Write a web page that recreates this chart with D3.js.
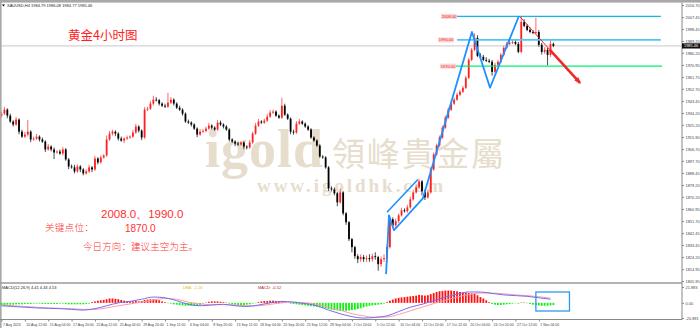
<!DOCTYPE html>
<html><head><meta charset="utf-8">
<script src="https://cdn.jsdelivr.net/npm/d3@7"></script>
<style>body{margin:0;background:#fff;overflow:hidden}svg{display:block}</style>
</head><body>
<svg id="c" width="700" height="328"></svg>
<script>
// ---------- data ----------
const firstOpen = 1932.0;
const closes = [
1933.7,1936.8,1932.2,1927.7,1925.4,1929.2,1920.0,1916.2,1917.8,1920.0,
1914.0,1914.7,1916.2,1914.0,1912.4,1906.4,1908.6,1906.4,1904.1,1904.8,
1903.3,1906.4,1898.8,1893.4,1892.7,1889.6,1893.4,1891.1,1888.1,1889.6,
1892.7,1891.1,1899.5,1896.5,1900.3,1901.8,1914.0,1918.5,1920.0,1918.5,
1914.7,1913.2,1914.7,1915.5,1916.2,1919.3,1923.9,1920.8,1915.5,1936.8,
1937.5,1941.4,1944.4,1944.0,1941.4,1939.8,1939.1,1942.1,1944.4,1941.4,
1938.3,1936.8,1933.7,1927.7,1926.9,1925.4,1922.3,1917.8,1920.0,1920.5,
1922.3,1924.6,1923.1,1921.6,1926.9,1925.4,1923.9,1921.6,1914.0,1912.4,
1910.9,1910.2,1911.7,1908.6,1907.9,1911.7,1918.5,1924.6,1927.7,1926.9,
1928.4,1931.5,1934.5,1935.3,1932.2,1930.7,1939.8,1933.0,1929.9,1920.0,
1919.3,1926.1,1927.7,1926.1,1923.9,1921.6,1915.5,1913.2,1909.4,1901.0,
1900.3,1892.7,1876.7,1875.9,1872.9,1866.0,1873.6,1857.6,1850.8,1837.9,
1831.8,1824.9,1822.6,1824.2,1822.6,1823.4,1822.6,1824.9,1824.2,1818.8,
1822.6,1823.4,1831.8,1853.1,1848.5,1851.6,1856.1,1859.9,1859.2,1862.2,
1868.3,1873.6,1877.4,1882.0,1874.4,1869.8,1873.6,1891.1,1902.6,1909.4,
1915.5,1923.1,1930.7,1936.8,1941.4,1944.4,1948.2,1950.5,1953.5,1961.1,
1974.8,1982.5,1991.6,1977.9,1977.1,1974.8,1974.1,1973.3,1965.7,1971.0,
1973.3,1978.6,1984.0,1987.0,1987.8,1988.5,1987.0,1980.9,2003.8,2000.7,
1997.7,1996.1,1995.4,1996.1,1986.3,1980.9,1982.5,1978.6,1987.0,1985.5];
const upWick = [
1.5,2,1,1.5,1,2,1,1.5,2,9, 1,1.5,2,1,1.5,1,2,1,1.5,1,
1.5,2,1,1,1.5,2,1.5,1,1,1.5, 2,1,2,1,1.5,1,3,2,1.5,1,
1,1.5,1,1.5,1,2,2,1,1,2, 1.5,2,3,2,1,1,1.5,7.5,2,1,
1,1.5,1,1,1.5,1,1,1,2,1.5, 1.5,2,1,1,2,1.5,1,1,1,1,
1,1.5,1,1,1,2,1.5,2,2,1, 1.5,2,2,1.5,1,1,6,1.5,1,1,
1.5,2,2,1,1,1,1,1,1,1, 1,1,1,1.5,1.5,1,3,1,1,1,
1,1,1.5,2,1.5,2,3,2,3,1, 2,3,2,2,1.5,2,1.5,2,1.5,2,
2,2,2,2,1,1.5,2,1.5,1.5,1.5, 1.5,1.5,1.5,1.5,1.5,1.5,1.5,1.5,1.5,1.5,
1.5,1.5,3.5,2,2,1.5,2,1.5,1.5,1.5, 1.5,1.5,1.5,1.5,1.5,2,1.5,1.5,4.5,2,
1.5,2,1.5,11,1.5,1.5,2,1.5,3,1];
const dnWick = [
1.5,1,2,1,1.5,1,2,1,1,1.5, 2,1,1,1.5,1,2,1,1.5,5,1,
1,1.5,1,2,1,1.5,1,2,1.5,1, 1,2,1,1.5,1,1,1,1,1.5,2,
1.5,1,2,1,1,1,1,1.5,2,1, 1,1,1.5,1,1.5,1,1,1,1,1.5,
1,1,1.5,1,1,1.5,1,2,1,1, 1,1,1.5,1,1,1,1.5,1,1.5,1,
2,1,1,2,1.5,1,1,1,1,1, 1,1,1,1,1,1,1,1,1,2,
1.5,1,1,1,1,1,1,1,1,1, 1,1,2,1.5,1.5,3,1,1.5,2,1.5,
4,2,3,2,2,2,2,2,2,5, 2,2,3,1,1.5,2,1.5,1,1,1,
1,1,1,1,3,2,1,1,1,1, 1,1,1,1,1,1,1,1,1,1,
1,1,1,1,1.5,1,1,1,3,1.5, 1,1,1,1,1,1,1,1,1,1,
1,1,1,1,1.5,2,1.5,8,1.5,1];
const macdHist = [
-3,-3,-2.5,-2.5,-2.5, -2,-2,-2,-1.5,-1.5,-1.5,
-1,-1,-1,-1.5,-1.5,-1.5,-1.5,-1.5,-1.5,-1,
-1,-1.5,-2,-2,-2,-2,-2,-2,-1.5,-1,
1,2,3,3.5,4, 5,6,6,5.5,5,4, 3,2.5,2,2,2.5,2,
2.5,4,4.5,5,5,4.5,3.5, 2,1,-0.5,-1,-2,-2.5,
-3,-3.5,-4,-4,-4,-4,-3.5,-3, -1,0.5,1.5,2,2,2,1.5,1,0.5,
-1,-2,-2.5,-3,-3,-3,-2.5,-2,-1,-0.5, 1,2,2.5,2.5,3,3,2.5,2,2,
1,0,-1,-1.5,-2, -2.5,-3,-3.5,-4,-4.5,-5,-5.5,-6,-7,
-7.5,-8.5,-9.5,-10,-10.5,-11,-11,-11,-10.5,-10, -9.5,-8.5,-7.5,-6,-5,-4,-3.5,-3,-2.5,-2,-1,
1,3,4.5,6,7,7.5,8,8.5,9, 9.5,10,11,10.5,10,10.5,12,13.5,15,16,
16.5,17,17,17,16.5,16,15,14.5,14,13.5, 13,12.5,10.5,8,6,3.5,
1,-1.5,-2.5,-3,-3,-2.5, -2,-1.5,-1,-0.5,-1,0.5, 0.5,-0.5,-1.5,-2.5,-3,-3.5,
-4,-4,-4,-3.5,-3];
// MACD lines sampled every 4 bars
const difVals = [-4,-5,-6,-7,-7.5,-8,-9,-10,-8,-4,0,2,5,8,7,3,-2,-4,-3,-2,-4,-5,-3,0,2,1,-1,-4,-10,-15,-19,-21,-20,-18,-12,-6,-2,3,8,12,15,15,13,11,10,9,7,5];
const deaVals = [-3,-4,-5,-6,-7,-7.5,-8,-9,-9,-7,-4,-1.5,1,4,6,5,1,-1.5,-2.5,-2.5,-3,-4,-4,-2,0,1,0,-2,-6,-10,-15,-18,-20,-19.5,-16,-11,-6,-1,3.5,8,11.5,13.5,13.5,12.5,11,10,8.5,6.5];
const yTicks = [2016.70,2007.45,1998.45,1989.20,1980.20,1970.95,1961.75,1952.70,1943.45,1934.20,1925.20,1915.90,1906.70,1897.70,1888.45,1879.20,1870.20,1860.95,1851.70,1842.45,1833.45,1824.20,1814.95,1805.95];
const macdTicks = [21.893, 0, -20.891];
const macdTickLabels = ["21.893","0.00","-20.891"];
const xLabels = ["7 Aug 2023","10 Aug 12:00","15 Aug 04:00","17 Aug 20:00","22 Aug 12:00","25 Aug 04:00","29 Aug 20:00","1 Sep 12:00","6 Sep 04:00","8 Sep 20:00","13 Sep 12:00","18 Sep 04:00","20 Sep 20:00","25 Sep 12:00","28 Sep 04:00","2 Oct 20:00","5 Oct 12:00","10 Oct 04:00","12 Oct 20:00","17 Oct 12:00","20 Oct 04:00","24 Oct 20:00","27 Oct 12:00","1 Nov 04:00"];
const levels = [2008, 1990, 1970];
const levelLabels = ["2008.00","1990.00","1970.00"];
const currentPrice = 1985.46;
const trendUp = [[131.7,1811.2],[132.7,1856.1],[134.4,1844.7],[144.3,1869.1],[161.1,1996.1],[167.3,1953.5],[177.2,2008.3]];
const channelTop = [[132.0,1858.4],[142.6,1883.5]];
const arrowPts = [[177.6,2007.6],[187.8,1982.5],[198.1,1957.3]];

// ---------- scales ----------
const svg = d3.select('#c');
const x = d3.scaleLinear().domain([0, closes.length-1]).range([1.5, 553.4]);
const y = d3.scaleLinear().domain([1805.95, 2016.70]).range([281, 5]);
const ym = d3.scaleLinear().domain([-20.891, 21.893]).range([318, 287]);
const AX = 682;

svg.append('rect').attr('width',700).attr('height',328).attr('fill','#fff');

// watermark
const wm = svg.append('g').attr('fill','#e6ddcc');
wm.append('text').attr('x',205).attr('y',167).attr('font-family','Liberation Serif, DejaVu Serif, serif').attr('font-weight','bold').attr('font-size',54).attr('textLength',118).text('igold');
wm.append('text').attr('x',332).attr('y',166).attr('font-family','Noto Sans CJK TC').attr('font-size',33).attr('textLength',172).text('領峰貴金屬');
wm.append('text').attr('x',257).attr('y',192).attr('font-family','Liberation Serif, DejaVu Serif, serif').attr('font-weight','bold').attr('font-size',19).attr('textLength',186).text('www.igoldhk.com');

// current price line
svg.append('line').attr('x1',0).attr('x2',AX).attr('y1',y(currentPrice)).attr('y2',y(currentPrice)).attr('stroke','#c8c8c8').attr('stroke-width',1);

// candles
const bars = closes.map((c,i)=>{
  const o = i===0 ? firstOpen : closes[i-1];
  return {i, o, c, h: Math.max(o,c)+upWick[i], l: Math.min(o,c)-dnWick[i], up: c>=o};
});
const cg = svg.append('g');
cg.selectAll('line.w').data(bars).join('line')
  .attr('x1',d=>x(d.i)).attr('x2',d=>x(d.i)).attr('y1',d=>y(d.h)).attr('y2',d=>y(d.l))
  .attr('stroke',d=>d.up?'#ff4040':'#1a1a1a').attr('stroke-width',0.8);
cg.selectAll('rect').data(bars).join('rect')
  .attr('x',d=>x(d.i)-0.9).attr('width',1.8)
  .attr('y',d=>y(Math.max(d.o,d.c))).attr('height',d=>Math.max(0.8, Math.abs(y(d.o)-y(d.c))))
  .attr('fill',d=>d.up?'#ff2020':'#000');

// level lines
const lvlCfg = [{s:156,e:225.8,col:'#14b4f0',w:1.3,lx:150.5},{s:156,e:225.8,col:'#4cc8f8',w:1.8,lx:149.5},{s:150.2,e:226.2,col:'#00f070',w:1.4,lx:150.2}];
levels.forEach((v,k)=>{
  const c = lvlCfg[k];
  svg.append('line').attr('x1',x(c.s)).attr('x2',x(c.e)).attr('y1',y(v)).attr('y2',y(v)).attr('stroke',c.col).attr('stroke-width',c.w);
  svg.append('rect').attr('x',x(c.lx)).attr('y',y(v)-2.5).attr('width',16).attr('height',5).attr('fill','#ffd4d4');
  svg.append('text').attr('x',x(c.lx)+8).attr('y',y(v)+1.4).attr('text-anchor','middle').attr('font-family','Arial, Liberation Sans').attr('font-size',4).attr('fill','#e02020').text(levelLabels[k]);
});

// blue pattern lines
const ln = d3.line().x(d=>x(d[0])).y(d=>y(d[1]));
svg.append('path').attr('d',ln(trendUp)).attr('fill','none').attr('stroke','#1e90ff').attr('stroke-width',1.8).attr('stroke-linejoin','round');
svg.append('path').attr('d',ln(channelTop)).attr('fill','none').attr('stroke','#1e90ff').attr('stroke-width',1.6);

// red arrow
svg.append('path').attr('d',ln(arrowPts.slice(0,2))).attr('fill','none').attr('stroke','#ff2020').attr('stroke-width',1);
svg.append('path').attr('d',ln(arrowPts.slice(1))).attr('fill','none').attr('stroke','#f02828').attr('stroke-width',2.6);
{
  const p1=[x(arrowPts[1][0]),y(arrowPts[1][1])], p2=[x(arrowPts[2][0]),y(arrowPts[2][1])];
  const a=Math.atan2(p2[1]-p1[1],p2[0]-p1[0]), L=6, sp=0.45;
  svg.append('path').attr('d',`M${p2[0]+1.5*Math.cos(a)},${p2[1]+1.5*Math.sin(a)}L${p2[0]-L*Math.cos(a-sp)},${p2[1]-L*Math.sin(a-sp)}L${p2[0]-L*Math.cos(a+sp)},${p2[1]-L*Math.sin(a+sp)}Z`).attr('fill','#f02828');
}

// title & notes
svg.append('text').attr('x',68).attr('y',40).attr('font-family','Noto Sans CJK SC').attr('font-size',12.5).attr('fill','#ff2020').text('黄金4小时图');
const note = svg.append('g').attr('fill','#ff3030');
note.append('text').attr('x',101).attr('y',218).attr('font-family','Arial, Liberation Sans').attr('font-size',11.5).text('2008.0、1990.0');
note.append('text').attr('x',45).attr('y',230.5).attr('font-family','Noto Sans CJK SC').attr('font-weight',300).attr('font-size',9.5).attr('letter-spacing',0.3).text('关键点位：');
note.append('text').attr('x',125).attr('y',232).attr('font-family','Arial, Liberation Sans').attr('font-size',10).text('1870.0');
note.append('text').attr('x',83).attr('y',250).attr('font-family','Noto Sans CJK SC').attr('font-weight',300).attr('font-size',9.5).attr('letter-spacing',0.1).text('今日方向：建议主空为主。');

// header
svg.append('path').attr('d','M2,4.5L5,4.5L3.5,6.5Z').attr('fill','#000');
svg.append('text').attr('x',7).attr('y',7).attr('font-family','Arial, Liberation Sans').attr('font-size',4).attr('fill','#222').text('XAUUSD,H4  1984.79 1986.08 1984.77 1985.46');

// frame
svg.append('rect').attr('x',0).attr('y',0).attr('width',700).attr('height',2.6).attr('fill','#a8a8a8');
svg.append('rect').attr('x',0).attr('y',0).attr('width',1.6).attr('height',328).attr('fill','#a8a8a8');
svg.append('line').attr('x1',0).attr('x2',AX).attr('y1',283).attr('y2',283).attr('stroke','#9a9a9a').attr('stroke-width',1.6);

// MACD
const mg = svg.append('g');
mg.selectAll('rect').data(macdHist.map((v,i)=>({v,i}))).join('rect')
  .attr('x',d=>x(d.i)-0.9).attr('width',1.8)
  .attr('y',d=>Math.min(ym(0),ym(d.v))).attr('height',d=>Math.abs(ym(d.v)-ym(0)))
  .attr('fill',d=>d.v>=0?'#ff1010':'#10f010');
const ml = d3.line().x((d,k)=>x(k*4)).y(d=>ym(d)).curve(d3.curveMonotoneX);
mg.append('path').attr('d',ml(deaVals)).attr('fill','none').attr('stroke','#ff9aa8').attr('stroke-width',1);
mg.append('path').attr('d',ml(difVals)).attr('fill','none').attr('stroke','#7070f0').attr('stroke-width',1);
svg.append('rect').attr('x',x(183)).attr('y',292).attr('width',x(194.5)-x(183)).attr('height',19).attr('fill','none').attr('stroke','#2b9af0').attr('stroke-width',1.3);
svg.append('text').attr('x',2).attr('y',288.5).attr('font-family','Arial, Liberation Sans').attr('font-size',4).attr('fill','#222').text('MACD(12,26,9) 4.41 4.43 4.53');
svg.append('text').attr('x',183).attr('y',288.5).attr('font-family','Arial, Liberation Sans').attr('font-size',4).attr('fill','#e0c000').text('DEA:    -1.16');
svg.append('text').attr('x',258).attr('y',288.5).attr('font-family','Arial, Liberation Sans').attr('font-size',4).attr('fill','#aa2020').text('MACD:    -0.52');

// right axis
svg.append('line').attr('x1',AX).attr('x2',AX).attr('y1',2.6).attr('y2',320).attr('stroke','#888').attr('stroke-width',1);
const ya = svg.append('g').attr('transform',`translate(${AX},0)`).call(d3.axisRight(y).tickValues(yTicks).tickSize(2).tickPadding(1.5).tickFormat(d3.format('.2f')));
const ma = svg.append('g').attr('transform',`translate(${AX},0)`).call(d3.axisRight(ym).tickValues(macdTicks).tickSize(2).tickPadding(1.5).tickFormat((d,k)=>macdTickLabels[k]));
[ya,ma].forEach(g=>{g.select('.domain').remove();g.selectAll('line').attr('stroke','#888');g.selectAll('text').attr('font-family','Arial, Liberation Sans').attr('font-size',3.9).attr('fill','#444');});
// current price tag
svg.append('rect').attr('x',AX).attr('y',y(currentPrice)-2.6).attr('width',18).attr('height',5.2).attr('fill','#111');
svg.append('text').attr('x',AX+2).attr('y',y(currentPrice)+1.4).attr('font-family','Arial, Liberation Sans').attr('font-size',3.9).attr('fill','#fff').text(currentPrice.toFixed(2));

// bottom axis
svg.append('line').attr('x1',0).attr('x2',AX).attr('y1',319.5).attr('y2',319.5).attr('stroke','#888').attr('stroke-width',1);
const xa = svg.append('g').attr('transform','translate(0,319.5)').call(d3.axisBottom(x).tickValues(d3.range(0, closes.length, 8).slice(0, xLabels.length)).tickSize(2).tickFormat((d,k)=>xLabels[k]));
xa.select('.domain').remove();
xa.selectAll('line').attr('stroke','#888');
xa.selectAll('text').attr('text-anchor','start').attr('dx',1).attr('dy',0).attr('y',6).attr('font-family','Arial, Liberation Sans').attr('font-size',3.5).attr('fill','#444');
</script>
</body></html>
